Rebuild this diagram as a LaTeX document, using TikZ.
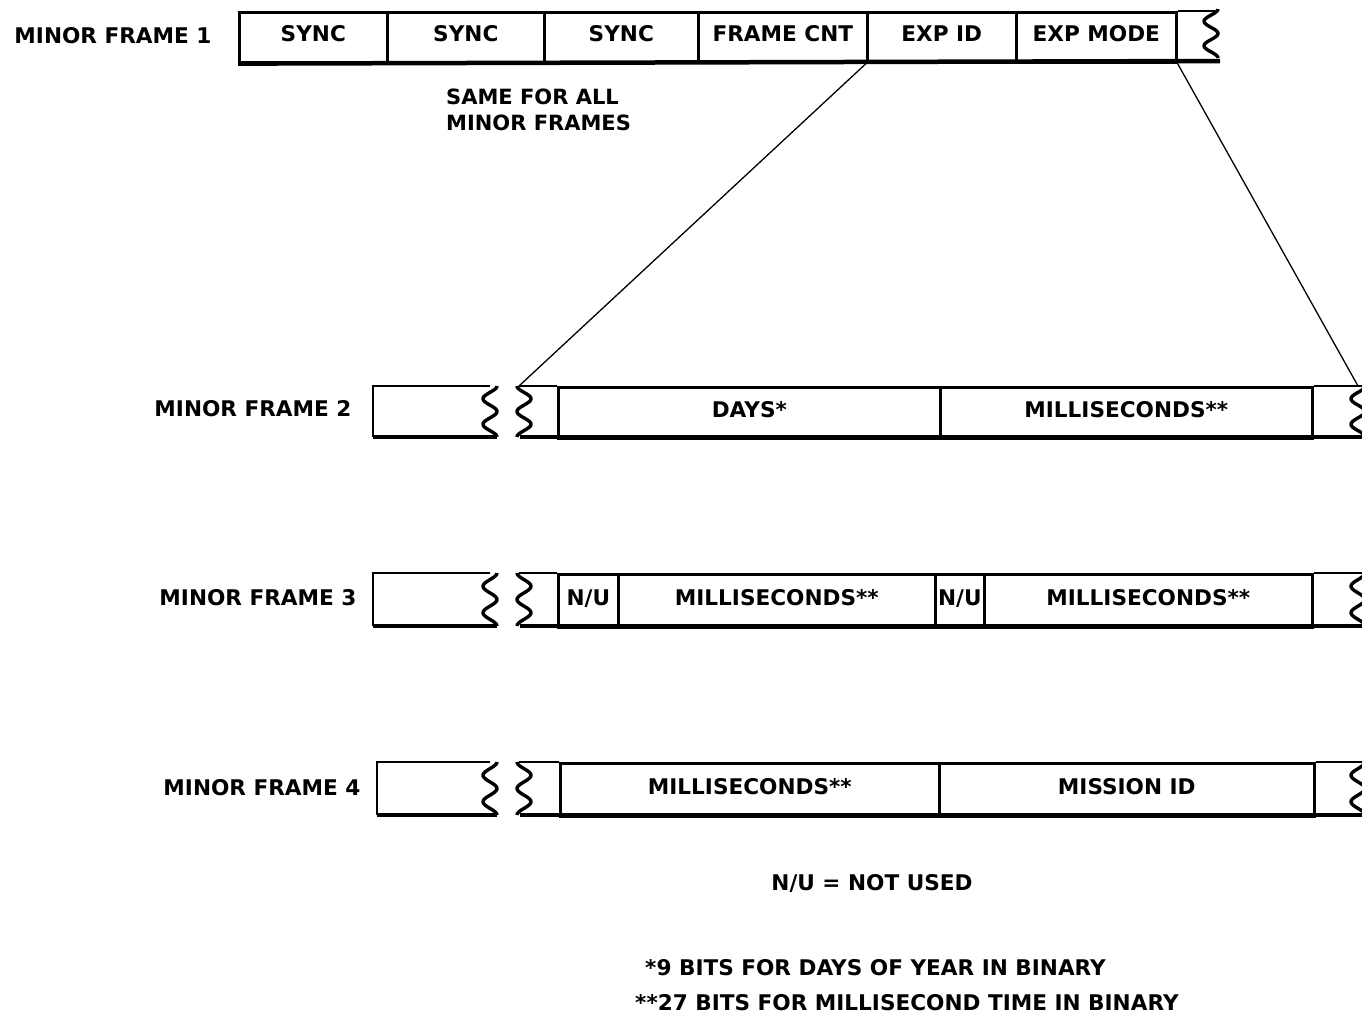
\documentclass[tikz,border=0pt]{standalone}
\usepackage{fontspec}
\setmainfont{DejaVu Sans}
% wavy break mark: centre x, top y, bottom y, direction (+1 starts right, -1 starts left)
\newcommand{\wavebreak}[4]{%
  \draw[breakline] plot[domain=0:1,samples=49,smooth]
    ({#1+#4*7*cos(\x*720)},{#2+\x*(#3-#2)});}
\begin{document}
\begin{tikzpicture}[x=1pt,y=-1pt,
  font=\fontsize{21.6}{26}\selectfont\bfseries,
  frame/.style={line width=2.6pt},
  base/.style={line width=4.5pt},
  breakline/.style={line width=3.4pt},
  link/.style={line width=1.3pt},
  field/.style={draw, line width=2.6pt, inner sep=0pt, anchor=north west,
                text height=15pt, text depth=6pt},
  rowA/.style={field, minimum height=50pt},
  rowB/.style={field, minimum height=51pt},
  rowC/.style={field, minimum height=53pt},
  label/.style={inner sep=0pt}]
\clip (0,0) rectangle (1362,1018);
\fill[white] (0,0) rectangle (1362,1018);

% ---- minor frame 1 ----
\node[label] (l1) at (113,36) {MINOR FRAME 1};
\node[rowA, minimum width=148pt] (s1) at (238,11) {SYNC};
\node[rowA, minimum width=157pt] (s2) at (386,11) {SYNC};
\node[rowA, minimum width=154pt] (s3) at (543,11) {SYNC};
\node[rowA, minimum width=169pt] (fc) at (697,11) {FRAME CNT};
\node[rowA, minimum width=149pt] (eid) at (866,11) {EXP ID};
\node[rowA, minimum width=160pt] (emode) at (1015,11) {EXP MODE};
\coordinate (e1t) at (1216,11);
\coordinate (e1b) at (1220,61);
\draw[frame] (emode.north east) -- (e1t);
\draw[base] (s1.south west) -- (e1b);
\wavebreak{1211}{9}{58}{1}
\node[label, align=left, anchor=north west, font=\fontsize{21}{26}\selectfont\bfseries] (same) at (446,89) {SAME FOR ALL\\MINOR FRAMES};

% ---- minor frame 2 ----
\node[label] (l2) at (253,409) {MINOR FRAME 2};
\coordinate (a2) at (490,386);
\coordinate (b2) at (497,437);
\draw[frame] (a2) -- (373,386) -- (373,437);
\draw[base] (373,437) -- (b2);
\wavebreak{490}{386}{437}{1}
\coordinate (z2) at (519,386);
\coordinate (z2b) at (520,437);
\node[rowB, minimum width=382pt] (days) at (557,386) {DAYS*};
\node[rowB, minimum width=372pt] (ms2) at (939,386) {MILLISECONDS**};
\draw[frame] (z2) -- (days.north west);
\draw[frame] (ms2.north east) -- (1362,386);
\draw[base] (z2b) -- (1362,437);
\wavebreak{524}{386}{437}{-1}
\wavebreak{1358}{386}{437}{1}
\coordinate (z2r) at (1358,386);

% expansion of the frame-1 fields
\draw[link] (eid.south west) -- (z2);
\draw[link] (emode.south east) -- (z2r);

% ---- minor frame 3 ----
\node[label] (l3) at (258,598) {MINOR FRAME 3};
\coordinate (a3) at (490,573);
\coordinate (b3) at (497,626);
\draw[frame] (a3) -- (373,573) -- (373,626);
\draw[base] (373,626) -- (b3);
\wavebreak{490}{573}{626}{1}
\coordinate (z3) at (519,573);
\coordinate (z3b) at (520,626);
\node[rowC, minimum width=60pt] (nu1) at (557,573) {N/U};
\node[rowC, minimum width=317pt] (ms3a) at (617,573) {MILLISECONDS**};
\node[rowC, minimum width=49pt] (nu2) at (934,573) {N/U};
\node[rowC, minimum width=328pt] (ms3b) at (983,573) {MILLISECONDS**};
\draw[frame] (z3) -- (nu1.north west);
\draw[frame] (ms3b.north east) -- (1362,573);
\draw[base] (z3b) -- (1362,626);
\wavebreak{524}{573}{626}{-1}
\wavebreak{1358}{573}{626}{1}

% ---- minor frame 4 ----
\node[label] (l4) at (262,788) {MINOR FRAME 4};
\coordinate (a4) at (490,762);
\coordinate (b4) at (497,815);
\draw[frame] (a4) -- (377,762) -- (377,815);
\draw[base] (377,815) -- (b4);
\wavebreak{490}{762}{815}{1}
\coordinate (z4) at (519,762);
\coordinate (z4b) at (520,815);
\node[rowC, minimum width=379pt] (ms4) at (559,762) {MILLISECONDS**};
\node[rowC, minimum width=375pt] (mid) at (938,762) {MISSION ID};
\draw[frame] (z4) -- (ms4.north west);
\draw[frame] (mid.north east) -- (1362,762);
\draw[base] (z4b) -- (1362,815);
\wavebreak{524}{762}{815}{-1}
\wavebreak{1358}{762}{815}{1}

% ---- notes ----
\node[label] (nu) at (872,883) {N/U = NOT USED};
\node[label, anchor=west] (n1) at (645,968) {*9 BITS FOR DAYS OF YEAR IN BINARY};
\node[label, anchor=west] (n2) at (635,1003) {**27 BITS FOR MILLISECOND TIME IN BINARY};
\end{tikzpicture}
\end{document}
